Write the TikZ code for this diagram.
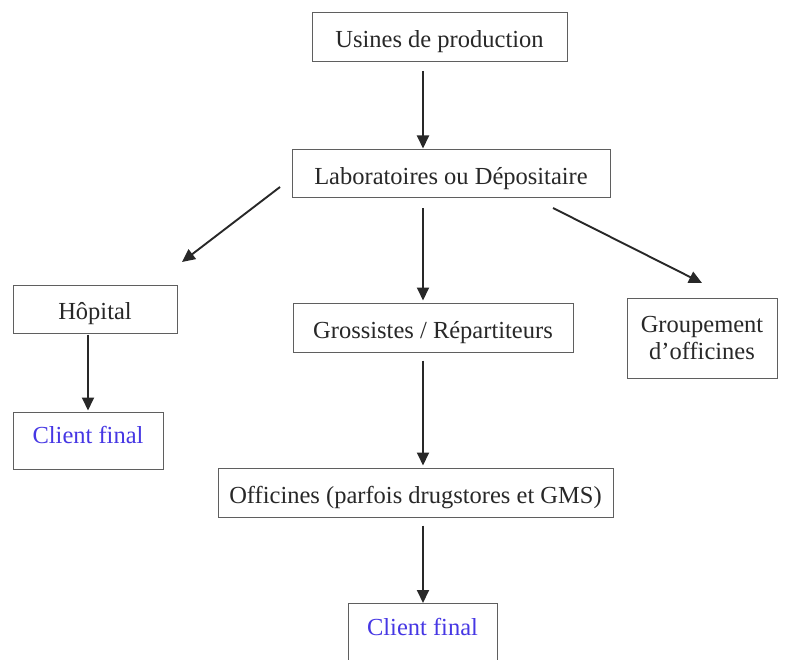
\documentclass[tikz,border=0pt]{standalone}
\usepackage{fontspec}
\setmainfont{Liberation Serif}
\usetikzlibrary{arrows.meta,calc}
\definecolor{inkgray}{RGB}{40,40,40}
\definecolor{boxgray}{RGB}{95,95,95}
\definecolor{clientblue}{RGB}{70,55,228}
\begin{document}
\begin{tikzpicture}[x=1pt,y=-1pt,
  box/.style={draw=boxgray, line width=1pt, fill=white, text=inkgray,
    inner sep=0pt, align=center,
    font=\fontsize{24.5}{27}\selectfont},
  onebox/.style={box, text height=22pt, text depth=1pt},
  clientbox/.style={box, text=clientblue},
  flow/.style={draw=inkgray, line width=1.9pt,
    -{Triangle[length=13pt,width=12pt]}}]
\useasboundingbox (0,0) rectangle (789,660);

% boxes (centre, width, height)
\node[onebox, minimum width=255, minimum height=49] (usines) at (439.5,37) {Usines de production};
\node[onebox, minimum width=318, minimum height=48] (lab) at (451,174) {Laboratoires ou Dépositaire};
\node[onebox, minimum width=164, minimum height=48] (hop) at (95,309) {Hôpital};
\node[clientbox, minimum width=150, minimum height=57, text height=17pt, text depth=12pt] (cl1) at (88,440.5) {Client final};
\node[onebox, minimum width=280, minimum height=49] (gross) at (433,327.5) {Grossistes / Répartiteurs};
\node[box, minimum width=150, minimum height=80] (group) at (702,338) {Groupement\\d’officines};
\node[onebox, minimum width=395, minimum height=49] (off) at (415.5,492.5) {Officines (parfois drugstores et GMS)};
\node[clientbox, minimum width=149, anchor=north, text height=32pt, text depth=30pt] (cl2) at (422.5,603) {Client final};

% vertical spine of the main chain
\coordinate (spine) at (423,0);
\coordinate (hopcol) at (88,0);

% free ends of the two diagonal arrows
\coordinate (labL) at (280,187);
\coordinate (hopT) at (182,262);
\coordinate (labR) at (553,208);
\coordinate (grpT) at (702,283);

\draw[flow, shorten <=9pt, shorten >=1pt] (usines.south -| spine) -- (lab.north -| spine);
\draw[flow, shorten <=10pt, shorten >=2pt] (lab.south -| spine) -- (gross.north -| spine);
\draw[flow, shorten <=8pt, shorten >=2pt] (gross.south -| spine) -- (off.north -| spine);
\draw[flow, shorten <=8pt, shorten >=0pt] (off.south -| spine) -- (cl2.north -| spine);
\draw[flow, shorten <=1pt, shorten >=1pt] (hop.south -| hopcol) -- (cl1.north -| hopcol);
\draw[flow] (labL) -- (hopT);
\draw[flow] (labR) -- (grpT);
\end{tikzpicture}
\end{document}
